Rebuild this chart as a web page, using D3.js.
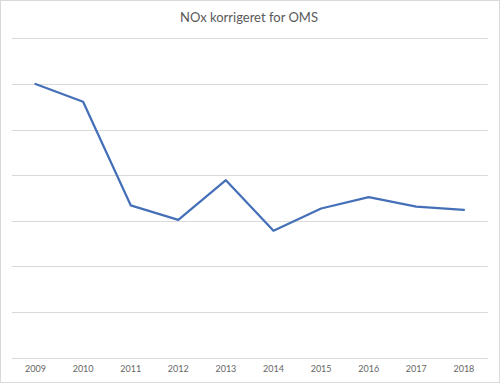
<!DOCTYPE html>
<html><head><meta charset="utf-8">
<script src="https://cdn.jsdelivr.net/npm/d3@7"></script>
<style>body{margin:0;background:#fff}svg{display:block}text{font-family:Lato,"Open Sans",sans-serif}</style>
</head><body>
<svg id="c" width="500" height="383"></svg>
<script>
const years = ["2009","2010","2011","2012","2013","2014","2015","2016","2017","2018"];
const values = [6.0, 5.61, 3.34, 3.02, 3.89, 2.78, 3.27, 3.52, 3.31, 3.24];
const yTicks = [0,1,2,3,4,5,6,7];
const title = "NOx korrigeret for OMS";

const W = 500, H = 383;
const m = {left: 11.7, right: 12.3, top: 38.3, bottom: 25.3};
const svg = d3.select("#c");
svg.append("rect").attr("x",0.5).attr("y",0.5).attr("width",W-1).attr("height",H-1)
  .attr("fill","#fff").attr("stroke","#d9d9d9");
const x = d3.scaleBand().domain(years).range([m.left, W-m.right]);
const y = d3.scaleLinear().domain([0,7]).range([H-m.bottom, m.top]);

svg.append("g").selectAll("line").data(yTicks).join("line")
  .attr("x1", m.left).attr("x2", W-m.right)
  .attr("y1", d=>Math.round(y(d))+0.5).attr("y2", d=>Math.round(y(d))+0.5)
  .attr("stroke","#d9d9d9").attr("stroke-width",1);

const xa = svg.append("g").attr("transform",`translate(0,${H-m.bottom})`)
  .call(d3.axisBottom(x).tickSize(0).tickPadding(8));
xa.select(".domain").remove();
xa.selectAll("text").attr("fill","#666666").style("font-size","9px").style("font-family","Lato,sans-serif");

svg.append("path").datum(values)
  .attr("fill","none").attr("stroke","#4570b8").attr("stroke-width",2.25)
  .attr("stroke-linejoin","round").attr("stroke-linecap","round")
  .attr("d", d3.line().x((d,i)=>x(years[i])+x.bandwidth()/2).y(d=>y(d)));

svg.append("text").attr("x",249).attr("y",22).attr("text-anchor","middle")
  .attr("fill","#595959").style("font-size","13px").text(title);
</script>
</body></html>
